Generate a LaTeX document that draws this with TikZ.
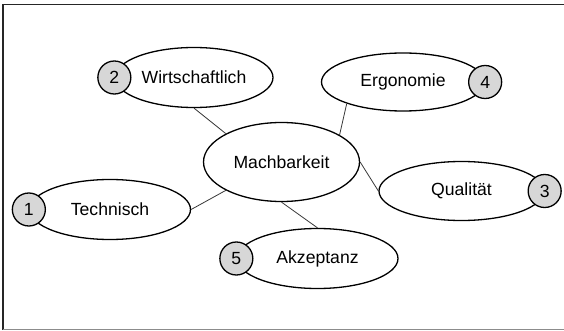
\documentclass[tikz,border=0pt]{standalone}
\usepackage{fontspec}
\setmainfont{Liberation Sans}
\usetikzlibrary{shapes.geometric}
\definecolor{numfill}{RGB}{215,215,215}
\definecolor{linkcol}{RGB}{55,55,55}
\tikzset{
  topic/.style={ellipse, draw=black, line width=1.3pt, fill=white, inner sep=0pt,
    minimum width=161pt, minimum height=60pt, font=\fontsize{17.6}{20}\selectfont},
  numcirc/.style={circle, draw=black, line width=1.3pt, fill=numfill, inner sep=0pt,
    minimum size=33pt, font=\fontsize{17.6}{20}\selectfont},
  link/.style={draw=linkcol, line width=0.8pt}
}
\begin{document}
\begin{tikzpicture}[x=1pt,y=-1pt]
\useasboundingbox (0,0) rectangle (564,331);
\draw[line width=1.2pt, black!85] (564,4.5) -- (3,4.5) -- (3,330);
\draw[line width=1.2pt, black!45] (3,329.5) -- (564,329.5);
% nodes
\node[topic, minimum width=156pt, minimum height=79pt] (m) at (281.5,162) {Machbarkeit};
\node[topic, minimum width=158pt] (w) at (194,77.5) {Wirtschaftlich};
\node[topic, minimum width=163pt, minimum height=58pt] (e) at (403,82) {Ergonomie};
\node[topic, minimum width=165pt, minimum height=59pt] (q) at (461.5,191) {Qualität};
\node[topic] (t) at (110,209.5) {Technisch};
\node[topic] (a) at (317.5,258.5) {Akzeptanz};
% connectors
\draw[link] (w.south) -- (m.153);
\draw[link] (e.201.5) -- (m.25.5);
\draw[link] (m.east) -- (q.west);
\draw[link] (t.east) -- (m.207.6);
\draw[link] (m.south) -- (a.north);
% number circles
\node[numcirc] (n2) at (w.west) {2};
\node[numcirc] (n4) at (e.east) {4};
\node[numcirc] (n3) at (q.east) {3};
\node[numcirc] (n1) at (t.west) {1};
\node[numcirc] (n5) at (a.west) {5};
\end{tikzpicture}
\end{document}
